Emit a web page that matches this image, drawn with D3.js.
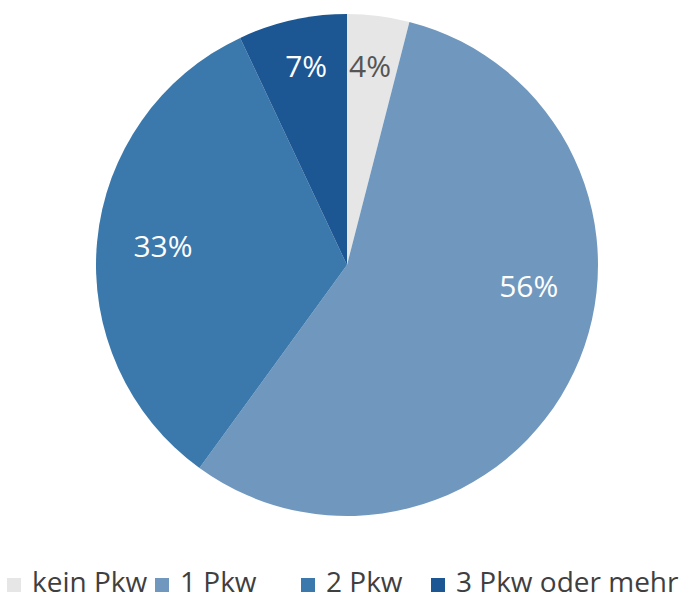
<!DOCTYPE html>
<html>
<head>
<meta charset="utf-8">
<script src="https://cdn.jsdelivr.net/npm/d3@7"></script>
<style>
  body { margin: 0; background: #fff; }
  text { font-family: 'Open Sans', sans-serif; }
</style>
</head>
<body>
<div id="chart"></div>
<script>
// data
let categories = ['kein Pkw', '1 Pkw', '2 Pkw', '3 Pkw oder mehr']
let values = [4, 56, 33, 7]
let colors = ['#e6e6e6', '#7098be', '#3b78ab', '#1c5693']
let labelColors = ['#555555', '#ffffff', '#ffffff', '#ffffff']

let width = 689
let height = 603
let radius = 251

let svg = d3
  .select('#chart')
  .append('svg')
  .attr('width', width)
  .attr('height', height)

let pieGroup = svg.append('g').attr('transform', 'translate(347,265)')

let pie = d3.pie().sort(null).value(d => d)
let arc = d3.arc().innerRadius(0).outerRadius(radius)

let slices = pie(values)

pieGroup
  .selectAll('path')
  .data(slices)
  .enter()
  .append('path')
  .attr('d', arc)
  .attr('fill', (d, i) => colors[i])

// labels sit roughly at the centroid, the big slice label is pulled up
let labelAngles = [6.6, 96.6, -84.1, -11.6]
let labelRadius = [200, 183, 185, 203]

pieGroup
  .selectAll('.label')
  .data(slices)
  .enter()
  .append('text')
  .attr('class', 'label')
  .attr('x', (d, i) => labelRadius[i] * Math.sin(labelAngles[i] * Math.PI / 180))
  .attr('y', (d, i) => -labelRadius[i] * Math.cos(labelAngles[i] * Math.PI / 180))
  .attr('dy', '0.36em')
  .attr('text-anchor', 'middle')
  .attr('font-size', 30)
  .attr('fill', (d, i) => labelColors[i])
  .text(d => d.value + '%')

// legend
let legendX = [7, 155, 301, 431]
let legend = svg
  .selectAll('.legend')
  .data(categories)
  .enter()
  .append('g')
  .attr('class', 'legend')
  .attr('transform', (d, i) => 'translate(' + legendX[i] + ',578)')

legend
  .append('rect')
  .attr('width', 14)
  .attr('height', 14)
  .attr('fill', (d, i) => colors[i])

legend
  .append('text')
  .attr('x', 25)
  .attr('y', 14)
  .attr('font-size', 28)
  .attr('fill', '#3f3f3f')
  .text(d => d)
</script>
</body>
</html>
